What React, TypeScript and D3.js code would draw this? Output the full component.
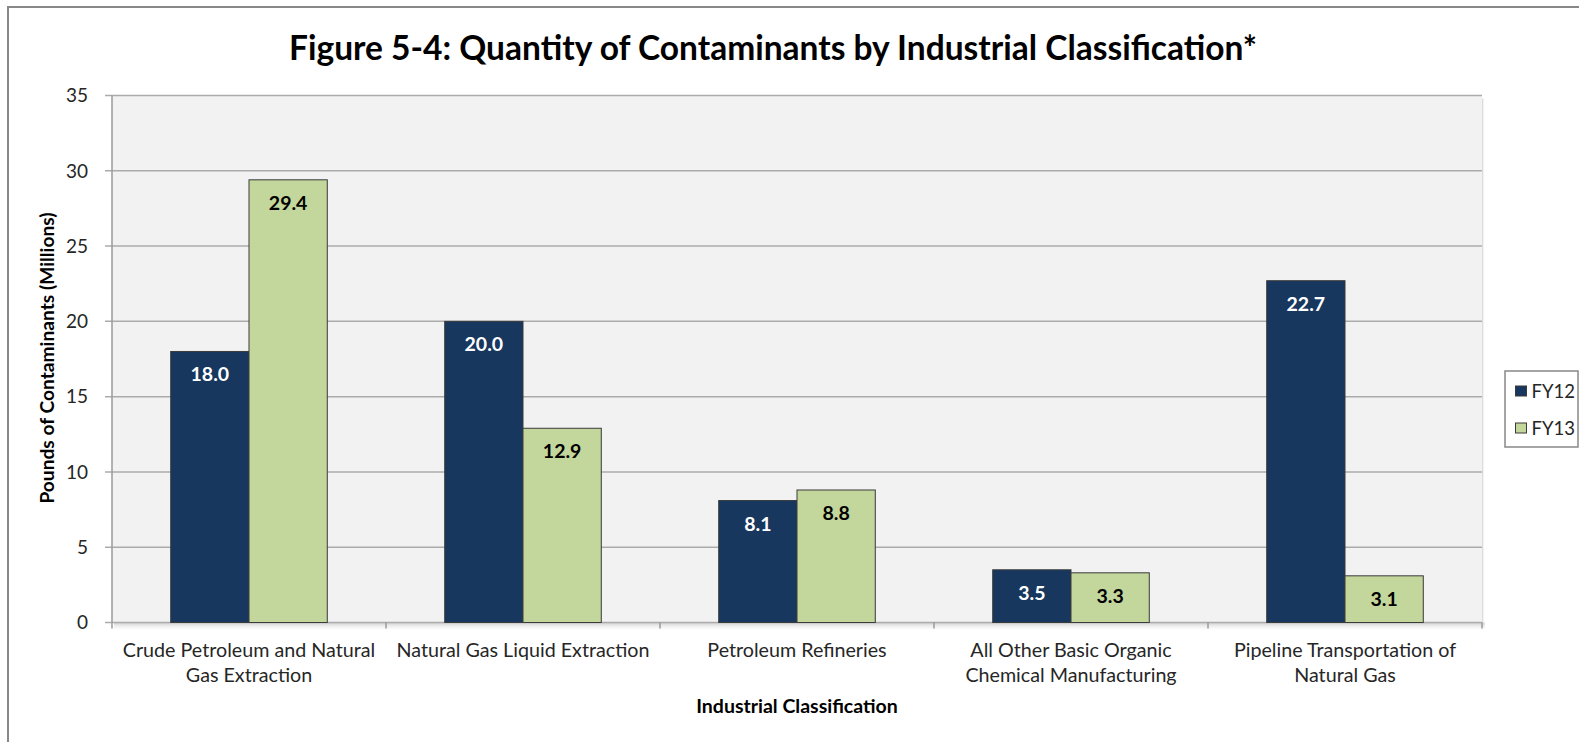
import React from "react";
import * as d3 from "d3";

const categories: string[][] = [
  ["Crude Petroleum and Natural", "Gas Extraction"],
  ["Natural Gas Liquid Extraction"],
  ["Petroleum Refineries"],
  ["All Other Basic Organic", "Chemical Manufacturing"],
  ["Pipeline Transportation of", "Natural Gas"],
];
const seriesNames = ["FY12", "FY13"];
const fy12 = [18.0, 20.0, 8.1, 3.5, 22.7];
const fy13 = [29.4, 12.9, 8.8, 3.3, 3.1];
const yTicks = [0, 5, 10, 15, 20, 25, 30, 35];
const title = "Figure 5-4: Quantity of Contaminants by Industrial Classification*";
const yTitle = "Pounds of Contaminants (Millions)";
const xTitle = "Industrial Classification";

const W = 1579;
const H = 742;
const FONT = "Lato, 'Open Sans', sans-serif";
const colors: Record<string, string> = { FY12: "#17375e", FY13: "#c3d69b" };
const labelColors: Record<string, string> = { FY12: "#ffffff", FY13: "#000000" };

export default function App() {
  const left = 112;
  const right = 1482;
  const top = 95.5;
  const bottom = 622.5;
  const keys = categories.map((c) => c.join(" "));
  const x = d3.scaleBand<string>().domain(keys).range([left, right]).padding(0);
  const bwCat = x.bandwidth();
  const gap = (bwCat * 1.5) / 3.5;
  const xs = d3
    .scaleBand<string>()
    .domain(seriesNames)
    .range([gap / 2, bwCat - gap / 2])
    .padding(0);
  const y = d3.scaleLinear().domain([0, 35]).range([bottom, top]);
  const values: Record<string, number[]> = { FY12: fy12, FY13: fy13 };

  return (
    <svg
      width={W}
      height={H}
      style={{ position: "absolute", left: 0, top: 0, display: "block" }}
      fontFamily={FONT}
    >
      <defs>
        <linearGradient id="shadowB" x1="0" y1="0" x2="0" y2="1">
          <stop offset="0" stopColor="#c8c8c8" stopOpacity="0.9" />
          <stop offset="1" stopColor="#ffffff" stopOpacity="0" />
        </linearGradient>
        <linearGradient id="shadowR" x1="0" y1="0" x2="1" y2="0">
          <stop offset="0" stopColor="#c8c8c8" stopOpacity="0.9" />
          <stop offset="1" stopColor="#ffffff" stopOpacity="0" />
        </linearGradient>
      </defs>
      <rect x={0} y={0} width={W} height={H} fill="#ffffff" />
      <rect x={8} y={7} width={W + 50} height={H + 50} fill="none" stroke="#888888" strokeWidth={2} />

      {/* plot area shadow */}
      <rect x={left + 2} y={bottom} width={right - left + 1} height={9} fill="url(#shadowB)" />
      <rect x={right} y={top + 3} width={3} height={bottom - top} fill="url(#shadowR)" />
      <rect x={left} y={top} width={right - left} height={bottom - top} fill="#f2f2f2" />

      {/* gridlines */}
      {yTicks.map((t) => (
        <line key={"g" + t} x1={left - 7} x2={right} y1={y(t)} y2={y(t)} stroke="#ababab" strokeWidth={1.5} />
      ))}
      <line x1={left} x2={left} y1={top} y2={bottom} stroke="#9a9a9a" strokeWidth={1.5} />
      {/* x ticks */}
      {d3.range(categories.length + 1).map((i) => {
        const xx = i < categories.length ? (x(keys[i]) as number) : right;
        return <line key={"xt" + i} x1={xx} x2={xx} y1={bottom} y2={bottom + 6} stroke="#9a9a9a" strokeWidth={1.5} />;
      })}

      {/* y tick labels */}
      {yTicks.map((t) => (
        <text key={"yl" + t} x={88} y={y(t)} dy="0.36em" textAnchor="end" fontSize={19} fill="#262626">
          {t}
        </text>
      ))}

      {/* bars */}
      {seriesNames.map((s) =>
        values[s].map((v, i) => {
          const bx = (x(keys[i]) as number) + (xs(s) as number);
          const w = xs.bandwidth();
          return (
            <g key={s + i}>
              <rect x={bx} y={y(v)} width={w} height={bottom - y(v)} fill={colors[s]} stroke="#3a3a3a" strokeWidth={1} />
              <text
                x={bx + w / 2}
                y={y(v) + 30}
                textAnchor="middle"
                fontSize={19.5}
                fontWeight="bold"
                fill={labelColors[s]}
              >
                {v.toFixed(1)}
              </text>
            </g>
          );
        })
      )}

      {/* category labels */}
      {categories.map((lines, i) => (
        <text key={"c" + i} textAnchor="middle" fontSize={19.7} fill="#262626">
          {lines.map((ln, j) => (
            <tspan key={j} x={(x(keys[i]) as number) + bwCat / 2} y={656.5 + j * 25}>
              {ln}
            </tspan>
          ))}
        </text>
      ))}

      {/* axis titles */}
      <text x={797} y={713} textAnchor="middle" fontSize={19.5} fontWeight="bold" fill="#000">
        {xTitle}
      </text>
      <text
        transform="translate(54,358) rotate(-90)"
        textAnchor="middle"
        fontSize={19.2}
        fontWeight="bold"
        fill="#000"
      >
        {yTitle}
      </text>

      {/* title */}
      <text x={773} y={59.5} textAnchor="middle" fontSize={33.5} fontWeight="bold" fill="#000">
        {title}
      </text>

      {/* legend */}
      <rect x={1505} y={371} width={73} height={76} fill="#ffffff" stroke="#888888" strokeWidth={1.5} />
      {seriesNames.map((s, i) => {
        const cy = 391 + i * 37;
        return (
          <g key={"lg" + s}>
            <rect x={1515.5} y={cy - 5} width={11} height={10} fill={colors[s]} stroke="#3a3a3a" strokeWidth={1} />
            <text x={1531.5} y={cy} dy="0.36em" fontSize={18.5} fill="#262626">
              {s}
            </text>
          </g>
        );
      })}
    </svg>
  );
}
